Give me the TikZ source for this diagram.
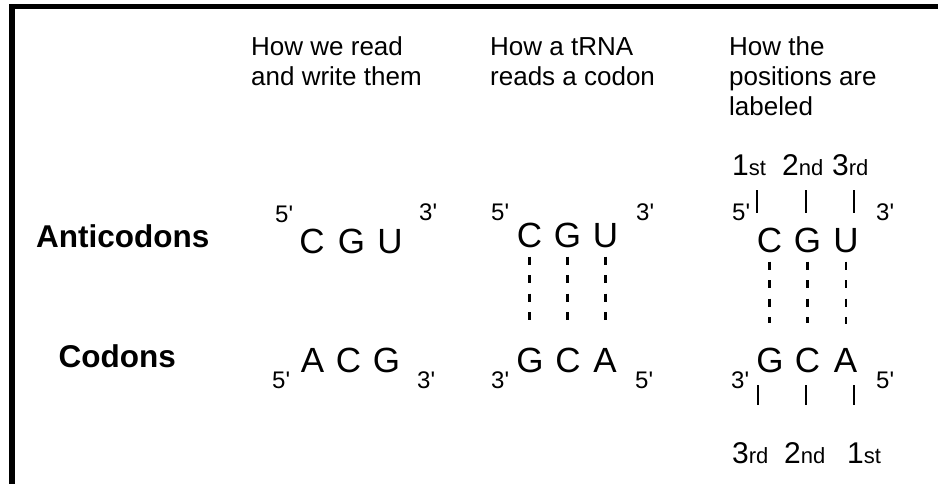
\documentclass[tikz,border=0pt]{standalone}
\usepackage{fontspec}
\setmainfont{Liberation Sans}[Ligatures=TeXOff]
\usepackage{tikz}
\newcommand{\ordl}[2]{{\fontsize{30}{30}\selectfont #1}{\fontsize{22}{22}\selectfont #2}}
\tikzset{
  boxline/.style={line width=5.5pt, line join=miter},
  hdr/.style={anchor=base west, align=left, font=\fontsize{26}{30}\selectfont},
  rowlbl/.style={anchor=base west, font=\fontsize{31.5}{32}\selectfont\bfseries},
  nucl/.style={anchor=base, font=\fontsize{35}{36}\selectfont},
  prime/.style={anchor=base west, font=\fontsize{24}{24}\selectfont},
  ordlbl/.style={anchor=base west},
  pair/.style={line width=2.8pt, dash pattern=on 8pt off 10.5pt, shorten <=9pt, shorten >=24pt},
  postick/.style={line width=2.8pt}
}

\begin{document}
\begin{tikzpicture}[x=1pt,y=-1pt,every node/.style={inner sep=0pt}]
  \useasboundingbox (0,0) rectangle (938,483);
  \clip (0,0) rectangle (938,483);
  \draw[boxline] (12.2,495) |- (950,6.7);
  % headings (base = last line)
  \node[hdr] (h1) at (251,85) {How we read\\and write them};
  \node[hdr] (h2) at (490,85) {How a tRNA\\reads a codon};
  \node[hdr] (h3) at (729,115) {How the\\positions are\\labeled};
  \node[rowlbl] (anti) at (36,247) {Anticodons};
  \node[rowlbl] (cod) at (58.5,367) {Codons};
  % how we read and write them
  \node[prime] (c1p5) at (275,222) {5'};
  \node[nucl] (c1a1) at (312,253) {C};
  \node[nucl] (c1a2) at (351.5,253) {G};
  \node[nucl] (c1a3) at (390,253) {U};
  \node[prime] (c1p3) at (419,220) {3'};
  \node[prime] (c1q5) at (272,388) {5'};
  \node[nucl] (c1b1) at (312.5,372) {A};
  \node[nucl] (c1b2) at (348.5,372) {C};
  \node[nucl] (c1b3) at (386.5,372) {G};
  \node[prime] (c1q3) at (417,388) {3'};
  % how a tRNA reads a codon
  \node[prime] (c2p5) at (491,220) {5'};
  \node[nucl] (c2a1) at (529.5,247) {C};
  \node[nucl] (c2a2) at (567.5,247) {G};
  \node[nucl] (c2a3) at (605.5,247) {U};
  \node[prime] (c2p3) at (636,220) {3'};
  \node[prime] (c2q3) at (491,388) {3'};
  \node[nucl] (c2b1) at (530,372) {G};
  \node[nucl] (c2b2) at (568,372) {C};
  \node[nucl] (c2b3) at (605,372) {A};
  \node[prime] (c2q5) at (635,388) {5'};
  \draw[pair] (c2a1.south) -- (c2a1.south |- c2b1.north);
  \draw[pair] (c2a2.south) -- (c2a2.south |- c2b2.north);
  \draw[pair] (c2a3.south) -- (c2a3.south |- c2b3.north);
  % how the positions are labeled
  \node[ordlbl] (o1) at (732,175) {\ordl{1}{st}};
  \node[ordlbl] (o2) at (782,175) {\ordl{2}{nd}};
  \node[ordlbl] (o3) at (832,175) {\ordl{3}{rd}};
  \draw[postick] (757,190) -- (757,213);
  \draw[postick] (806,190) -- (806,213);
  \draw[postick] (854,190) -- (854,213);
  \node[prime] (c3p5) at (732,220) {5'};
  \node[nucl] (c3a1) at (769.5,252) {C};
  \node[nucl] (c3a2) at (807.5,252) {G};
  \node[nucl] (c3a3) at (846,252) {U};
  \node[prime] (c3p3) at (876,220) {3'};
  \node[prime] (c3q3) at (731,388) {3'};
  \node[nucl] (c3b1) at (770,372) {G};
  \node[nucl] (c3b2) at (807.5,372) {C};
  \node[nucl] (c3b3) at (845.5,372) {A};
  \node[prime] (c3q5) at (876,388) {5'};
  \draw[pair] (c3a1.south) -- (c3a1.south |- c3b1.north);
  \draw[pair] (c3a2.south) -- (c3a2.south |- c3b2.north);
  \draw[pair] (c3a3.south) -- (c3a3.south |- c3b3.north);
  \draw[postick] (758,385) -- (758,405);
  \draw[postick] (806,385) -- (806,405);
  \draw[postick] (854,385) -- (854,405);
  \node[ordlbl] (u3) at (732,463) {\ordl{3}{rd}};
  \node[ordlbl] (u2) at (784,463) {\ordl{2}{nd}};
  \node[ordlbl] (u1) at (847,463) {\ordl{1}{st}};
\end{tikzpicture}
\end{document}
